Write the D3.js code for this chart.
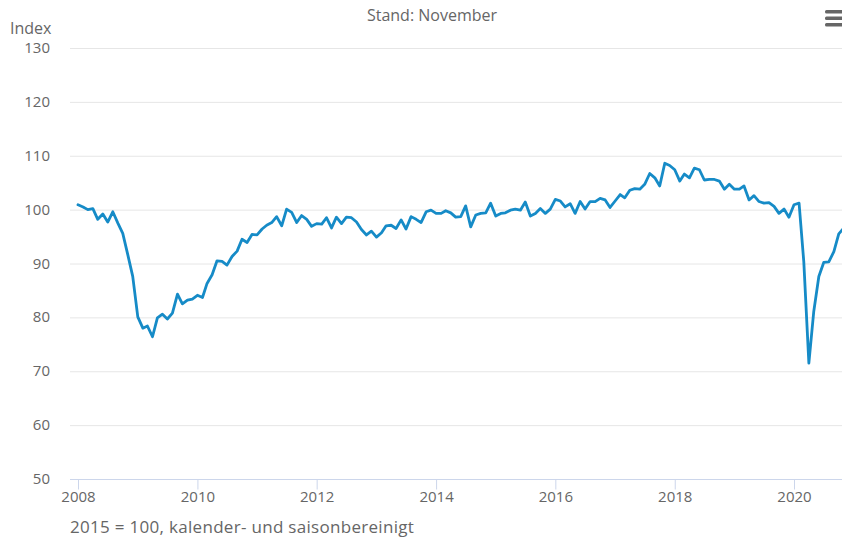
<!DOCTYPE html>
<html><head><meta charset="utf-8">
<script src="https://cdn.jsdelivr.net/npm/d3@7"></script>
<style>
html,body{margin:0;padding:0;background:#fff;}
svg{display:block;font-family:"Open Sans",sans-serif;}
</style></head>
<body><svg id="c" width="842" height="538"></svg>
<script>
const startMonth = "2008-01";
const v2008 = [100.9,100.5,100.0,100.2,98.2,99.2,97.7,99.6,97.5,95.6,91.6,87.6];
const v2009 = [80.1,78.0,78.4,76.4,79.9,80.6,79.7,80.8,84.3,82.5,83.2,83.4];
const v2010 = [84.1,83.7,86.3,87.9,90.5,90.4,89.7,91.3,92.3,94.5,93.9,95.4];
const v2011 = [95.3,96.4,97.1,97.6,98.7,97.0,100.1,99.5,97.6,98.9,98.2,96.9];
const v2012 = [97.4,97.3,98.5,96.6,98.6,97.4,98.6,98.5,97.7,96.3,95.3,96.0];
const v2013 = [94.9,95.7,97.0,97.1,96.5,98.1,96.4,98.7,98.2,97.6,99.6,99.9];
const v2014 = [99.3,99.3,99.8,99.4,98.6,98.7,100.7,96.8,99.0,99.3,99.4,101.2];
const v2015 = [98.8,99.3,99.4,99.9,100.1,99.9,101.4,98.8,99.3,100.2,99.3,100.1];
const v2016 = [101.9,101.6,100.5,101.1,99.3,101.5,100.1,101.5,101.5,102.1,101.8,100.4];
const v2017 = [101.6,102.8,102.2,103.6,103.9,103.8,104.7,106.7,105.9,104.4,108.6,108.2];
const v2018 = [107.4,105.3,106.6,105.9,107.7,107.4,105.5,105.6,105.6,105.3,103.8,104.7];
const v2019 = [103.8,103.8,104.4,101.8,102.6,101.5,101.2,101.3,100.6,99.3,100.1,98.6];
const v2020 = [100.9,101.2,90.3,71.5,81.1,87.6,90.2,90.3,92.2,95.5,96.6];
const yTicks = [50,60,70,80,90,100,110,120,130];
const xTickYears = [2008,2010,2012,2014,2016,2018,2020];
const title = "Stand: November";
const yTitle = "Index";
const footnote = "2015 = 100, kalender- und saisonbereinigt";

const values = [].concat(v2008,v2009,v2010,v2011,v2012,v2013,v2014,v2015,v2016,v2017,v2018,v2019,v2020);
const parse = d3.timeParse("%Y-%m");
const t0 = parse(startMonth);
const dates = d3.timeMonth.range(t0, d3.timeMonth.offset(t0, values.length));
const data = values.map((v,i)=>({d:dates[i], v}));

const svg = d3.select("#c");
const plotL = 70, plotR = 842, plotT = 48, plotB = 479;
const x = d3.scaleTime().domain([new Date(2008,0,1), new Date(2020,0,1)]).range([78, 794]);
const y = d3.scaleLinear().domain([50,130]).range([plotB, plotT]);

// gridlines
svg.append("g").selectAll("line").data(yTicks.filter(t=>t>50)).join("line")
  .attr("x1", plotL).attr("x2", plotR)
  .attr("y1", d=>y(d)+0.5).attr("y2", d=>y(d)+0.5)
  .attr("stroke", "#e6e6e6").attr("stroke-width", 1);

// y labels
svg.append("g").selectAll("text").data(yTicks).join("text")
  .attr("x", 50).attr("y", d=>y(d)+5)
  .attr("text-anchor","end").attr("fill","#666").attr("font-size",15)
  .text(d=>d);

// x axis
const xAxis = d3.axisBottom(x)
  .tickValues(xTickYears.map(yr=>new Date(yr,0,1)))
  .tickFormat(d3.timeFormat("%Y"))
  .tickSize(10).tickSizeOuter(0);
const gx = svg.append("g").attr("transform",`translate(0,${plotB+0.5})`).call(xAxis);
gx.select(".domain").remove();
gx.insert("line",":first-child").attr("x1",plotL).attr("x2",plotR).attr("stroke","#ccd6eb");
gx.selectAll(".tick line").attr("stroke","#ccd6eb");
gx.selectAll(".tick text").attr("fill","#666").attr("font-size",15).attr("font-family","Open Sans, sans-serif").attr("dy","0.95em").attr("y",8);

// line
const line = d3.line().x(d=>x(d.d)).y(d=>y(d.v));
svg.append("path").datum(data).attr("d", line)
  .attr("fill","none").attr("stroke","#168bc7").attr("stroke-width",2.8)
  .attr("stroke-linejoin","round").attr("stroke-linecap","round");

// texts
svg.append("text").attr("x",432).attr("y",21).attr("text-anchor","middle")
  .attr("fill","#666").attr("font-size",16).text(title);
svg.append("text").attr("x",10).attr("y",34).attr("fill","#666").attr("font-size",16).text(yTitle);
svg.append("text").attr("x",70).attr("y",533).attr("fill","#666").attr("font-size",17)
  .attr("letter-spacing","0.3px").text(footnote);

// menu icon
svg.append("g").selectAll("rect").data([0,1,2]).join("rect")
  .attr("x",825).attr("y",d=>10+d*6.5).attr("width",18).attr("height",3.5).attr("rx",1.5)
  .attr("fill","#666");
</script></body></html>
